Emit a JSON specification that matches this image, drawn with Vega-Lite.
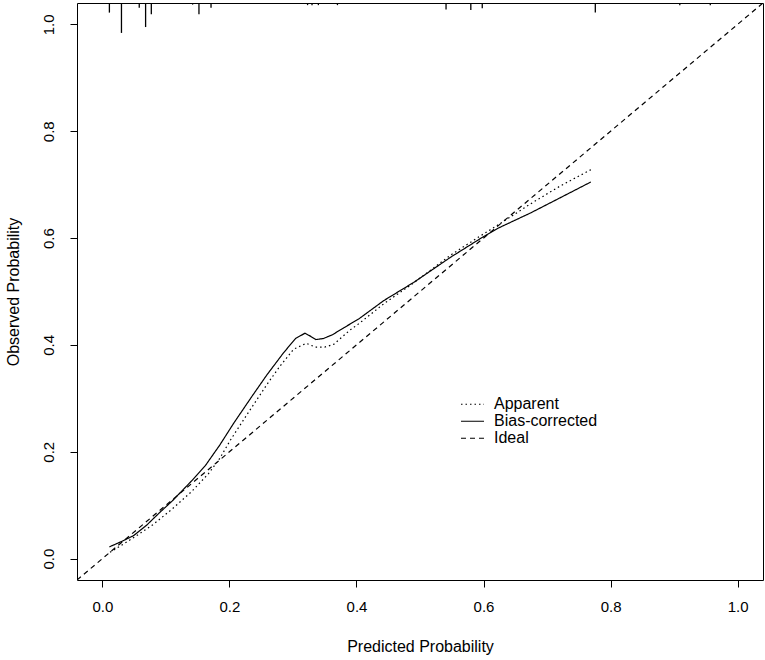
{
  "$schema": "https://vega.github.io/schema/vega-lite/v6.json",
  "autosize": "none",
  "width": 686,
  "height": 577,
  "padding": {"left": 77, "top": 3, "right": 2, "bottom": 80},
  "background": "white",
  "config": {
    "font": "Liberation Sans",
    "view": {"stroke": "black", "strokeWidth": 1},
    "axis": {"grid": false, "domain": false, "tickColor": "black", "tickSize": 7, "labelColor": "black", "titleColor": "black", "labelFontSize": 15, "titleFontSize": 16, "titleFontWeight": "normal", "labelFont": "Liberation Sans", "titleFont": "Liberation Sans"}
  },
  "datasets": {
    "rug": [
      {"p": 0.011, "end": 1.022},
      {"p": 0.030, "end": 0.984},
      {"p": 0.058, "end": 1.031},
      {"p": 0.068, "end": 0.995},
      {"p": 0.077, "end": 1.019},
      {"p": 0.142, "end": 1.037},
      {"p": 0.152, "end": 1.019},
      {"p": 0.171, "end": 1.031},
      {"p": 0.323, "end": 1.036},
      {"p": 0.330, "end": 1.036},
      {"p": 0.340, "end": 1.036},
      {"p": 0.370, "end": 1.036},
      {"p": 0.541, "end": 1.028},
      {"p": 0.580, "end": 1.027},
      {"p": 0.598, "end": 1.030},
      {"p": 0.776, "end": 1.022},
      {"p": 0.909, "end": 1.036},
      {"p": 0.957, "end": 1.036}
    ],
    "curves": [
      {"series": "Apparent", "x": 0.012, "y": 0.012},
      {"series": "Apparent", "x": 0.03, "y": 0.025},
      {"series": "Apparent", "x": 0.05, "y": 0.040},
      {"series": "Apparent", "x": 0.08, "y": 0.064},
      {"series": "Apparent", "x": 0.11, "y": 0.093},
      {"series": "Apparent", "x": 0.14, "y": 0.125},
      {"series": "Apparent", "x": 0.167, "y": 0.159},
      {"series": "Apparent", "x": 0.185, "y": 0.188},
      {"series": "Apparent", "x": 0.2016, "y": 0.222},
      {"series": "Apparent", "x": 0.23, "y": 0.274},
      {"series": "Apparent", "x": 0.259, "y": 0.326},
      {"series": "Apparent", "x": 0.28, "y": 0.361},
      {"series": "Apparent", "x": 0.301, "y": 0.392},
      {"series": "Apparent", "x": 0.321, "y": 0.403},
      {"series": "Apparent", "x": 0.335, "y": 0.396},
      {"series": "Apparent", "x": 0.35, "y": 0.396},
      {"series": "Apparent", "x": 0.364, "y": 0.401},
      {"series": "Apparent", "x": 0.39, "y": 0.428},
      {"series": "Apparent", "x": 0.404, "y": 0.440},
      {"series": "Apparent", "x": 0.443, "y": 0.477},
      {"series": "Apparent", "x": 0.49, "y": 0.516},
      {"series": "Apparent", "x": 0.548, "y": 0.568},
      {"series": "Apparent", "x": 0.595, "y": 0.604},
      {"series": "Apparent", "x": 0.622, "y": 0.624},
      {"series": "Apparent", "x": 0.674, "y": 0.664},
      {"series": "Apparent", "x": 0.72, "y": 0.697},
      {"series": "Apparent", "x": 0.769, "y": 0.728},
      {"series": "Bias-corrected", "x": 0.011, "y": 0.022},
      {"series": "Bias-corrected", "x": 0.03, "y": 0.032},
      {"series": "Bias-corrected", "x": 0.049, "y": 0.043},
      {"series": "Bias-corrected", "x": 0.07, "y": 0.063},
      {"series": "Bias-corrected", "x": 0.089, "y": 0.085},
      {"series": "Bias-corrected", "x": 0.11, "y": 0.108},
      {"series": "Bias-corrected", "x": 0.14, "y": 0.145},
      {"series": "Bias-corrected", "x": 0.162, "y": 0.174},
      {"series": "Bias-corrected", "x": 0.185, "y": 0.213},
      {"series": "Bias-corrected", "x": 0.207, "y": 0.254},
      {"series": "Bias-corrected", "x": 0.235, "y": 0.303},
      {"series": "Bias-corrected", "x": 0.259, "y": 0.344},
      {"series": "Bias-corrected", "x": 0.285, "y": 0.385},
      {"series": "Bias-corrected", "x": 0.304, "y": 0.412},
      {"series": "Bias-corrected", "x": 0.319, "y": 0.422},
      {"series": "Bias-corrected", "x": 0.328, "y": 0.416},
      {"series": "Bias-corrected", "x": 0.336, "y": 0.410},
      {"series": "Bias-corrected", "x": 0.348, "y": 0.412},
      {"series": "Bias-corrected", "x": 0.362, "y": 0.419},
      {"series": "Bias-corrected", "x": 0.38, "y": 0.432},
      {"series": "Bias-corrected", "x": 0.404, "y": 0.449},
      {"series": "Bias-corrected", "x": 0.443, "y": 0.483},
      {"series": "Bias-corrected", "x": 0.49, "y": 0.517},
      {"series": "Bias-corrected", "x": 0.548, "y": 0.564},
      {"series": "Bias-corrected", "x": 0.595, "y": 0.599},
      {"series": "Bias-corrected", "x": 0.622, "y": 0.618},
      {"series": "Bias-corrected", "x": 0.674, "y": 0.647},
      {"series": "Bias-corrected", "x": 0.72, "y": 0.675},
      {"series": "Bias-corrected", "x": 0.769, "y": 0.705},
      {"series": "Ideal", "x": -0.04, "y": -0.04},
      {"series": "Ideal", "x": 1.04, "y": 1.04}
    ]
  },
  "layer": [
    {
      "data": {"name": "rug"},
      "mark": {"type": "rule", "color": "black", "strokeWidth": 1.3},
      "encoding": {
        "x": {"field": "p", "type": "quantitative", "scale": {"domain": [-0.04, 1.04], "nice": false, "zero": false}},
        "y": {"field": "end", "type": "quantitative", "scale": {"domain": [-0.04, 1.04], "nice": false, "zero": false}},
        "y2": {"datum": 1.04}
      }
    },
    {
      "data": {"name": "curves"},
      "mark": {"type": "line", "color": "black", "strokeWidth": 1.2, "clip": true},
      "encoding": {
        "x": {"field": "x", "type": "quantitative", "scale": {"domain": [-0.04, 1.04], "nice": false, "zero": false},
              "axis": {"values": [0, 0.2, 0.4, 0.6, 0.8, 1.0], "format": ".1f", "labelPadding": 12, "title": "Predicted Probability", "titlePadding": 24}},
        "y": {"field": "y", "type": "quantitative", "scale": {"domain": [-0.04, 1.04], "nice": false, "zero": false},
              "axis": {"values": [0, 0.2, 0.4, 0.6, 0.8, 1.0], "format": ".1f", "labelAngle": 270, "labelAlign": "center", "labelBaseline": "bottom", "labelPadding": 14, "title": "Observed Probability", "titlePadding": 20}},
        "strokeDash": {"field": "series", "type": "nominal",
          "scale": {"domain": ["Apparent", "Bias-corrected", "Ideal"], "range": [[1.5, 3], [1, 0], [5, 4]]},
          "legend": {"title": null, "orient": "none", "legendX": 383, "legendY": 393, "padding": 0, "symbolType": "stroke", "symbolSize": 529, "symbolStrokeWidth": 1.2, "symbolStrokeColor": "black", "labelFontSize": 16, "labelColor": "black", "labelOffset": 9, "clipHeight": 16.5, "rowPadding": 0, "symbolOffset": 0}
        }
      }
    }
  ]
}
